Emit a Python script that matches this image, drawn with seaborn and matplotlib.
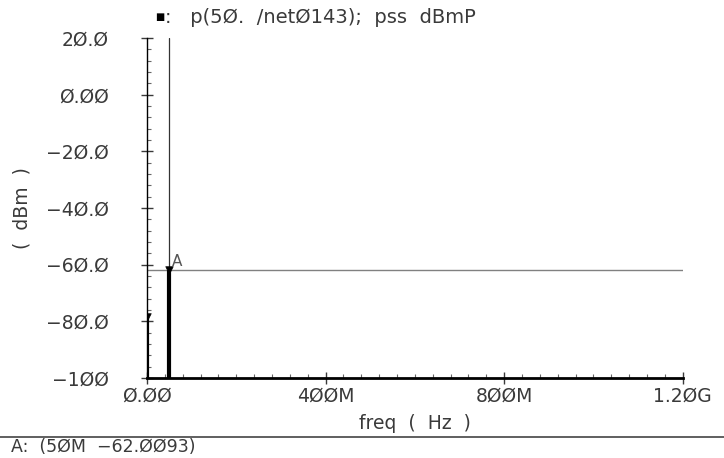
import numpy as np
import pandas as pd
import seaborn as sns
import matplotlib.pyplot as plt
from matplotlib.ticker import MultipleLocator

# pss spectrum values
freq_hz = [0.0, 50e6]
power_dbm = [-78.5, -62.0093]

marker_freq = 50e6
marker_dbm = -62.0093

x_ticks = [0, 400e6, 800e6, 1.2e9]
x_labels = ['Ø.ØØ', '4ØØM', '8ØØM', '1.2ØG']
y_ticks = [20, 0, -20, -40, -60, -80, -100]
y_labels = ['2Ø.Ø', 'Ø.ØØ', '−2Ø.Ø', '−4Ø.Ø', '−6Ø.Ø', '−8Ø.Ø', '−1ØØ']

spec = pd.DataFrame({'freq': freq_hz, 'dbm': power_dbm})

sns.set_style('ticks')
plt.rcParams['font.family'] = ['DejaVu Sans']
ink = '#3a3a3a'

fig = plt.figure(figsize=(7.24, 4.58), dpi=100)
ax = fig.add_axes([0.203, 0.175, 0.740, 0.742])

# crosshair of marker A
ax.axhline(marker_dbm, color='#808080', lw=1.0, zorder=1)
ax.plot([marker_freq, marker_freq], [marker_dbm, 20], color='#333333', lw=0.9, zorder=1)

# spectral stems
ax.vlines(spec['freq'], -100, spec['dbm'], color='black', lw=3, zorder=3)
sns.scatterplot(data=spec, x='freq', y='dbm', marker='v', s=30, color='black',
                edgecolor='black', ax=ax, zorder=4, legend=False)
ax.text(marker_freq + 5e6, marker_dbm + 0.5, 'A', fontsize=11, color='#555555',
        ha='left', va='bottom')

ax.set_xlim(0, 1.2e9)
ax.set_ylim(-100, 20)
ax.set_xticks(x_ticks, x_labels)
ax.set_yticks(y_ticks, y_labels)
ax.xaxis.set_minor_locator(MultipleLocator(40e6))
ax.yaxis.set_minor_locator(MultipleLocator(4))
ax.tick_params(which='major', direction='inout', length=9, width=1, labelsize=13.5,
               colors=ink)
ax.tick_params(axis='y', which='major', pad=23)
ax.tick_params(axis='x', which='major', pad=2)
ax.tick_params(which='minor', direction='in', length=3, width=0.8, colors='#666666')

sns.despine(ax=ax)
ax.spines['left'].set_linewidth(1.0)
ax.spines['bottom'].set_linewidth(2.0)
ax.spines['left'].set_color('black')
ax.spines['bottom'].set_color('black')

ax.set_xlabel('freq  (  Hz  )', fontsize=13.5, color=ink)
ax.xaxis.set_label_coords(0.5, -0.105)
ax.set_ylabel('(  dBm  )', fontsize=13.5, color=ink)
ax.yaxis.set_label_coords(-0.215, 0.5)

# trace legend at the top
fig.text(0.221, 0.962, '■', fontsize=7, color='black', ha='center', va='center')
fig.text(0.228, 0.962, ':   p(5Ø.  /netØ143);  pss  dBmP', fontsize=14, color=ink,
         ha='left', va='center')

# marker readout under a rule
fig.add_artist(plt.Line2D([0.0, 1.0], [0.046, 0.046], color='#444444', lw=1.2,
                          transform=fig.transFigure))
fig.text(0.015, 0.024, 'A:  (5ØM  −62.ØØ93)', fontsize=12.5, color=ink,
         ha='left', va='center')

fig.savefig('out.png', dpi=100)
